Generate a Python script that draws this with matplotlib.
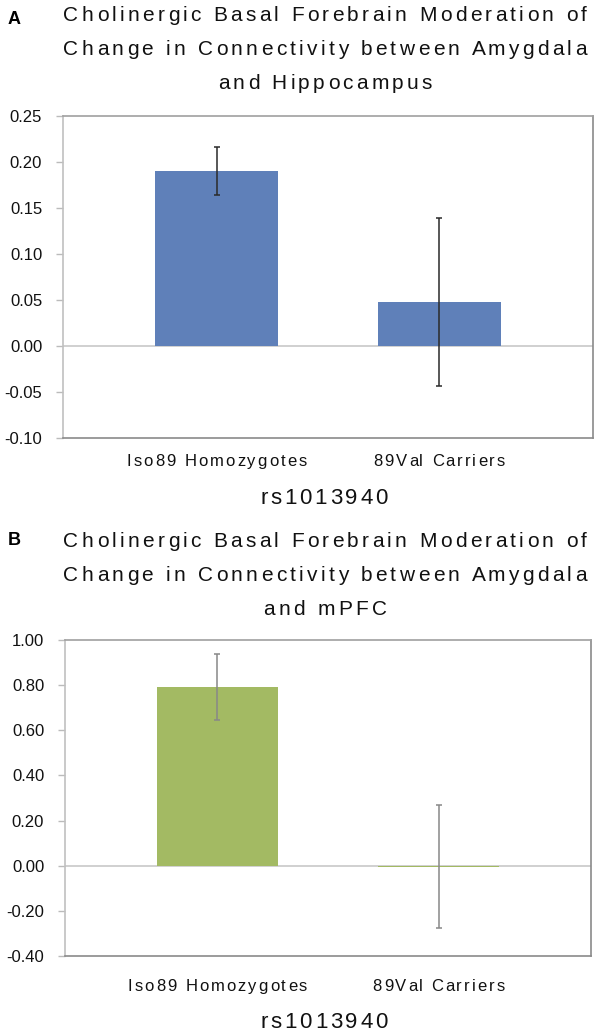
import matplotlib
matplotlib.use("Agg")
from matplotlib import pyplot as plt
from matplotlib.font_manager import FontProperties
from matplotlib.transforms import IdentityTransform

plt.rcParams['font.family'] = ['Liberation Sans', 'DejaVu Sans']

groups = ["Iso89 Homozygotes", "89Val Carriers"]
snp = "rs1013940"

hippo_vals = [0.190, 0.048]
hippo_err = [0.026, 0.091]
hippo_ticks = [-0.10, -0.05, 0.00, 0.05, 0.10, 0.15, 0.20, 0.25]
hippo_title = ["Cholinergic Basal Forebrain Moderation of",
               "Change in Connectivity between Amygdala",
               "and Hippocampus"]

mpfc_vals = [0.792, -0.005]
mpfc_err = [0.148, 0.272]
mpfc_ticks = [-0.40, -0.20, 0.00, 0.20, 0.40, 0.60, 0.80, 1.00]
mpfc_title = ["Cholinergic Basal Forebrain Moderation of",
              "Change in Connectivity between Amygdala",
              "and mPFC"]

W, H = 600, 1033
fig = plt.figure(figsize=(W / 100, H / 100), dpi=100)
renderer = fig.canvas.get_renderer()


def px_axes(left, top, right, bottom):
    return fig.add_axes([left / W, 1 - bottom / H, (right - left) / W, (bottom - top) / H])


def spaced_text(xc, ybase, s, size, spacing, color='#111111'):
    # letter-spaced text, centred on xc, baseline at ybase (pixels from top)
    prop = FontProperties(family=['Liberation Sans'], size=size)
    wl = renderer.get_text_width_height_descent("l", prop, ismath=False)[0]

    def adv(prefix):
        if not prefix:
            return 0
        return renderer.get_text_width_height_descent(prefix + "l", prop, ismath=False)[0] - wl

    total = adv(s[:-1]) + renderer.get_text_width_height_descent(s[-1], prop, ismath=False)[0] \
        + spacing * (len(s) - 1)
    x0 = xc - total / 2
    for i, c in enumerate(s):
        if c == ' ':
            continue
        fig.text(x0 + adv(s[:i]) + i * spacing, H - ybase, c, fontproperties=prop,
                 ha='left', va='baseline', color=color, transform=IdentityTransform())


def panel(ax, vals, errs, ticks, color, ecolor, label_y, snp_y):
    x = range(len(vals))
    ax.bar(x, vals, width=0.55, color=color, zorder=2)
    ax.errorbar(x, vals, yerr=errs, fmt='none', ecolor=ecolor, elinewidth=1.1,
                capsize=2.5, capthick=1.1, zorder=3)
    ax.axhline(0, color='#c8c8c8', lw=1.2, zorder=1)
    ax.set_xlim(-0.69, 1.69)
    ax.set_ylim(ticks[0], ticks[-1])
    ax.set_yticks(ticks)
    ax.set_yticklabels(['%.2f' % t for t in ticks], fontsize=12, color='#111111')
    ax.tick_params(axis='y', length=5, width=1, color='#bbbbbb', pad=10, direction='out')
    ax.set_xticks([])
    ax.spines['left'].set_color('#c0c0c0')
    ax.spines['top'].set_color('#a0a0a0')
    ax.spines['right'].set_color('#8a8a8a')
    ax.spines['bottom'].set_color('#8a8a8a')
    for s in ax.spines.values():
        s.set_linewidth(1.2)
    for i, g in enumerate(groups):
        xc = ax.transData.transform((i, 0))[0]
        spaced_text(xc, label_y, g, 12, 2.0)
    xmid = ax.transAxes.transform((0.5, 0))[0]
    spaced_text(xmid - 4, snp_y, snp, 16, 2.8)


axA = px_axes(63, 116, 593, 438)
panel(axA, hippo_vals, hippo_err, hippo_ticks, '#5f80b9', '#2a2a2a', 466, 504)
for k, line in enumerate(hippo_title):
    spaced_text(325, 21 + 34 * k, line, 15, 3.3)
fig.text(8 / W, 1 - 24 / H, "A", ha='left', va='baseline', fontsize=13, fontweight='bold')

axB = px_axes(65, 640, 591, 956)
panel(axB, mpfc_vals, mpfc_err, mpfc_ticks, '#a3ba63', '#888888', 991, 1028)
for k, line in enumerate(mpfc_title):
    spaced_text(325, 547 + 34 * k, line, 15, 3.3)
fig.text(8 / W, 1 - 545 / H, "B", ha='left', va='baseline', fontsize=13, fontweight='bold')

fig.savefig("out.png", dpi=100)
